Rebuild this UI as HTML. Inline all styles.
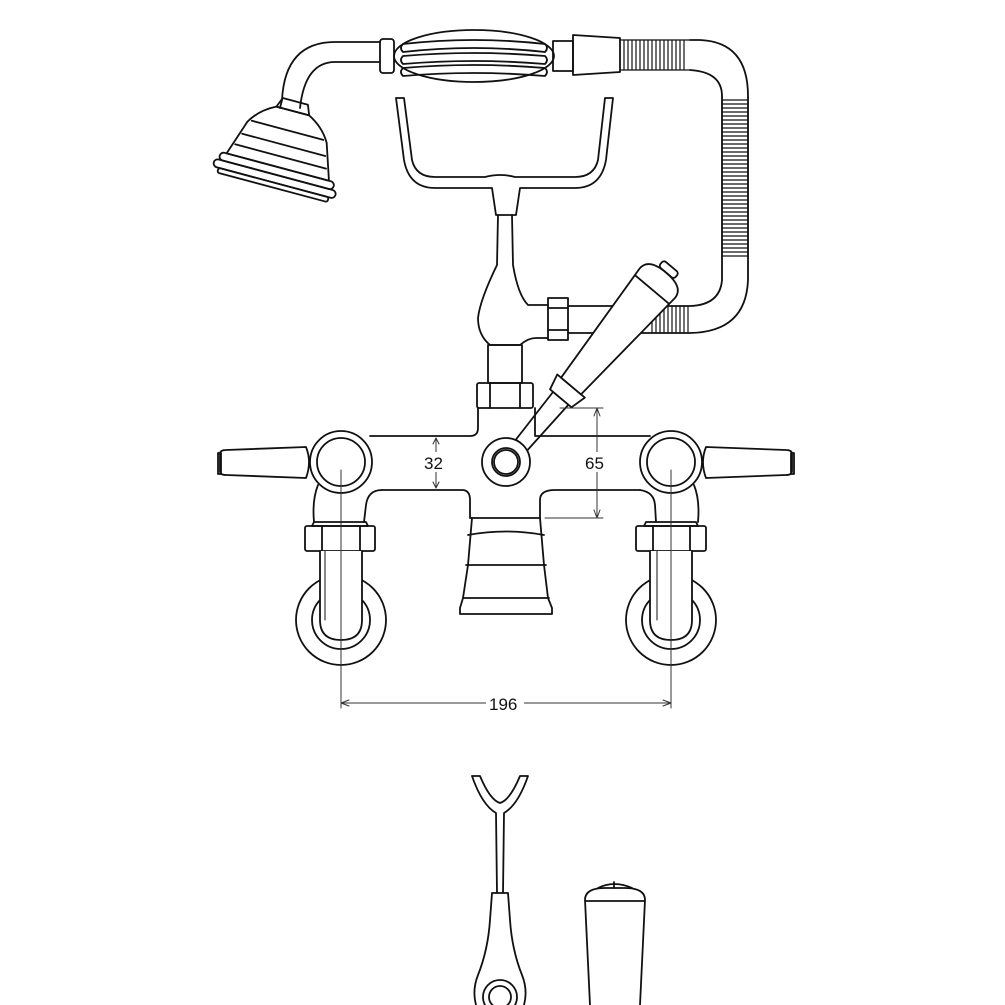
<!DOCTYPE html>
<html><head><style>body{margin:0;background:#fff}svg{display:block}</style></head><body>
<svg width="1005" height="1005" viewBox="0 0 1005 1005" xmlns="http://www.w3.org/2000/svg" fill="none" stroke="#111" stroke-width="1.8" stroke-linejoin="round" stroke-linecap="round">
<!-- handset hose top -->
<path d="M380 42 L335 42 Q285 42 282 100 L280 108"/>
<path d="M380 62 L335 62 Q305 62 300 108"/>
<ellipse cx="474" cy="56" rx="80" ry="26"/>
<rect x="380" y="39" width="14" height="34" rx="3"/>
<rect x="553" y="41" width="20" height="30"/>
<path d="M573 35 L620 38 L620 72 L573 75 Z"/>
<path d="M403 44 Q474 36 545 44 Q549 48 545 52 Q474 44 403 52 Q399 48 403 44Z"/>
<path d="M403 56 Q474 50 545 56 Q549 60 545 64 Q474 58 403 64 Q399 60 403 56Z"/>
<path d="M403 68 Q474 62 545 68 Q549 72 545 76 Q474 70 403 76 Q399 72 403 68Z"/>
<g stroke-width="1.2">
<path d="M620 40 L690 40 M620 70 L690 70"/>
<path d="M624 40v30M628 40v30M632 40v30M636 40v30M640 40v30M644 40v30M648 40v30M652 40v30M656 40v30M660 40v30M664 40v30M668 40v30M672 40v30M676 40v30M680 40v30M684 40v30"/>
<path d="M722 96v163M748 96v163"/>
<path d="M722 100h26M722 104h26M722 108h26M722 112h26M722 116h26M722 120h26M722 124h26M722 128h26M722 132h26M722 136h26M722 140h26M722 144h26M722 148h26M722 152h26M722 156h26M722 160h26M722 164h26M722 168h26M722 172h26M722 176h26M722 180h26M722 184h26M722 188h26M722 192h26M722 196h26M722 200h26M722 204h26M722 208h26M722 212h26M722 216h26M722 220h26M722 224h26M722 228h26M722 232h26M722 236h26M722 240h26M722 244h26M722 248h26M722 252h26M722 256h26"/>
<path d="M652 306v27M656 306v27M660 306v27M664 306v27M668 306v27M672 306v27M676 306v27M680 306v27M684 306v27M688 306v27"/>
</g>
<path d="M690 40 L700 40 Q748 42 748 96 L748 280 Q746 332 690 333 L640 333"/>
<path d="M690 70 Q722 72 722 96 L722 280 Q720 305 690 306 L640 306"/>
<!-- shower head -->
<g transform="rotate(15 285 140)">
<path d="M272 100 L298 100 L302 110 L268 110 Z"/>
<path d="M268 110 L302 110 Q318 118 326 132 L338 168 L232 168 L244 132 Q252 118 268 110 Z"/>
<path d="M248 130 L322 130 M242 145 L328 145 M238 157 L332 157"/>
<rect x="226" y="168" width="118" height="8" rx="4"/>
<rect x="222" y="176" width="126" height="8" rx="4"/>
<rect x="228" y="184" width="114" height="5" rx="2"/>
</g>
<!-- cradle -->
<path d="M396 98 L404 98 L412 160 Q416 177 435 177 L485 177 Q500 173 515 177 L575 177 Q594 177 598 160 L605 98 L613 98 L606 160 Q601 188 575 188 L520 188 L516 215 L496 215 L492 188 L435 188 Q409 188 404 160 Z"/>
<!-- column -->
<path d="M498 215 L497 265 Q480 300 478 318 Q478 335 490 345 L520 345 Q528 338 536 338 L548 338"/>
<path d="M512 215 L513 265 Q518 295 528 305 L548 305"/>
<rect x="488" y="345" width="34" height="38"/>
<rect x="477" y="383" width="56" height="25" rx="2"/>
<path d="M490 383v25M520 383v25"/>
<rect x="548" y="298" width="20" height="42"/>
<path d="M548 308h20M548 330h20"/>
<path d="M568 306 L640 306 M568 333 L640 333"/>
<!-- main lever -->
<g transform="rotate(40 506 462)">
<path d="M500 462 L497 378 L517 378 L514 462" fill="#fff"/>
<path d="M493 378 L521 378 L525 362 L489 362 Z" fill="#fff"/>
<path d="M494 362 L484 228 Q484 214 507 214 Q530 214 530 228 L520 362 Z" fill="#fff"/>
<path d="M485 236 L529 236"/>
<rect x="497" y="206" width="20" height="8" rx="3"/>
</g>
<!-- body -->
<path d="M370 436 L470 436 Q478 436 478 428 L478 408 M535 408 L535 436 L650 436"/>
<path d="M382 490 L462 490 Q470 490 470 500 L470 518 L540 518 L540 500 Q540 490 555 490 L640 490"/>
<path d="M382 490 Q368 490 366 505 L364 522 M640 490 Q654 492 655 505 L656 522"/>
<path d="M318 485 Q312 500 314 522 M694 485 Q700 500 698 522"/>
<circle cx="341" cy="462" r="31"/><circle cx="341" cy="462" r="24"/>
<circle cx="671" cy="462" r="31"/><circle cx="671" cy="462" r="24"/>
<circle cx="506" cy="462" r="24" fill="#fff"/><circle cx="506" cy="462" r="14" fill="#fff"/><circle cx="506" cy="462" r="12"/>
<!-- side levers -->
<path d="M306 447 L226 450 Q220 450 220 454 L220 471 Q220 475 226 475 L306 478 Q312 462 306 447Z"/>
<path d="M218 453h3v21h-3z"/>
<path d="M706 447 L786 450 Q792 450 792 454 L792 471 Q792 475 786 475 L706 478 Q700 462 706 447Z"/>
<path d="M791 453h3v21h-3z"/>
<!-- nuts -->
<path d="M314 522 L366 522 L368 526 L312 526Z M646 522 L696 522 L698 526 L644 526Z"/>
<rect x="305" y="526" width="70" height="25" rx="2"/><path d="M322 526v25M360 526v25"/>
<rect x="636" y="526" width="70" height="25" rx="2"/><path d="M653 526v25M690 526v25"/>
<!-- pipes & escutcheons -->
<circle cx="341" cy="620" r="45"/><circle cx="341" cy="620" r="29"/>
<circle cx="671" cy="620" r="45"/><circle cx="671" cy="620" r="29"/>
<path d="M320 551 L320 620 Q320 640 341 640 Q362 640 362 620 L362 551" fill="#fff"/>
<path d="M650 551 L650 620 Q650 640 671 640 Q692 640 692 620 L692 551" fill="#fff"/>
<path d="M325 551v69M657 551v69" stroke-width="1"/>
<!-- spout -->
<path d="M472 518 L468 565 L463 598 L460 608 L460 614 L552 614 L552 608 L548 598 L544 565 L540 518"/>
<path d="M468 535 Q506 528 544 535 M466 565 L546 565 M463 598 L549 598"/>
<!-- dimensions -->
<g stroke-width="1" stroke="#333">
<path d="M436 438 L436 488"/>
<path d="M433 444 L436 438 L439 444 M433 482 L436 488 L439 482"/>
<path d="M560 408 L603 408 M545 518 L603 518 M597 410 L597 516"/>
<path d="M594 416 L597 408 L600 416 M594 510 L597 518 L600 510"/>
<path d="M341 470 L341 708 M671 470 L671 708 M343 703 L669 703"/>
<path d="M349 700 L341 703 L349 706 M663 700 L671 703 L663 706"/>
</g>
<g fill="#111" stroke="none" font-family="Liberation Sans, sans-serif" font-size="17">
<rect x="420" y="452" width="30" height="20" fill="#fff"/>
<text x="424" y="469">32</text>
<rect x="582" y="452" width="30" height="20" fill="#fff"/>
<text x="585" y="469">65</text>
<rect x="486" y="693" width="38" height="20" fill="#fff"/>
<text x="489" y="710">196</text>
</g>
<!-- bottom parts -->
<path d="M472 776 L480 776 Q490 800 500 803 Q510 800 520 776 L528 776 Q518 805 504 813 L503 893 L508 893 L510 920 Q512 950 522 975 Q528 990 524 1005 M496 813 Q482 805 472 776 M496 813 L497 893 L492 893 L490 920 Q488 950 478 975 Q472 990 476 1005 M497 893 L503 893"/>
<circle cx="500" cy="997" r="17"/><circle cx="500" cy="997" r="11"/>
<path d="M585 900 Q585 888 605 888 L625 888 Q645 888 645 900 L640 1005 M585 900 L590 1005 M585 901 L645 901"/>
<path d="M598 888 Q614 880 632 888 M614 882v6"/>
</svg>
</body></html>
